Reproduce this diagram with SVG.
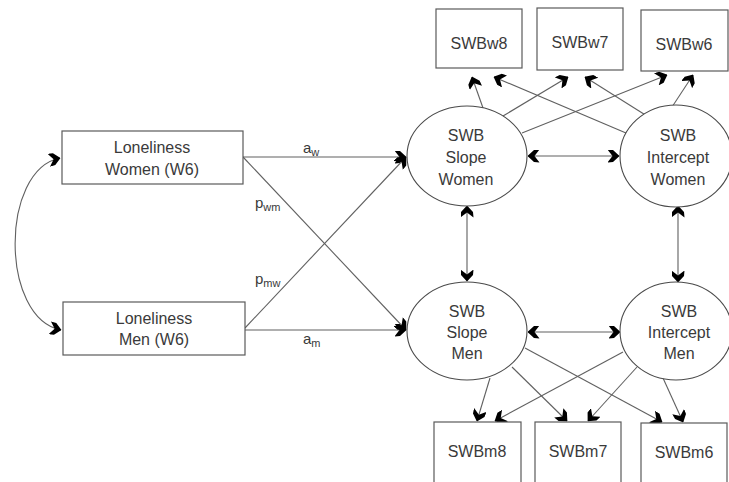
<svg xmlns="http://www.w3.org/2000/svg" width="729" height="482" viewBox="0 0 729 482">
<style>
.box{fill:#fff;stroke:#5a5a5a;stroke-width:1.2}
.ell{fill:#fff;stroke:#4a4a4a;stroke-width:1.1}
.t{font-family:"Liberation Sans",Arial,sans-serif;font-size:16px;fill:#3a3a3a;text-anchor:middle;dominant-baseline:central}
.lb{font-family:"Liberation Sans",Arial,sans-serif;font-size:15px;fill:#3a3a3a}
.sub{font-size:11px}
.c{fill:none;stroke:#606060;stroke-width:1.1}
.ar{marker-end:url(#ah)}
.bi{marker-start:url(#ahs);marker-end:url(#ah)}
</style>
<defs>
<marker id="ah" viewBox="0 0 12 13" refX="11.5" refY="6.5" markerWidth="12" markerHeight="13" markerUnits="userSpaceOnUse" orient="auto">
<path d="M0,0 L5.5,0.5 L12,6.5 L5.5,12.5 L0,13 L5,6.5 Z" fill="#000"/>
</marker>
<marker id="ahs" viewBox="0 0 12 13" refX="11.5" refY="6.5" markerWidth="12" markerHeight="13" markerUnits="userSpaceOnUse" orient="auto-start-reverse">
<path d="M0,0 L5.5,0.5 L12,6.5 L5.5,12.5 L0,13 L5,6.5 Z" fill="#000"/>
</marker>
</defs>

<g id="connectors">
<path class="c bi" d="M60,158 C0,170 0,318 61,330"/>
<line class="c ar" x1="243" y1="157" x2="406" y2="157"/>
<line class="c ar" x1="245" y1="330" x2="406" y2="330"/>
<line class="c ar" x1="243" y1="157" x2="406" y2="330"/>
<line class="c ar" x1="245" y1="328" x2="406" y2="157"/>
<line class="c bi" x1="528" y1="156" x2="619" y2="156"/>
<line class="c bi" x1="528" y1="332" x2="620" y2="332"/>
<line class="c bi" x1="467" y1="206" x2="467" y2="281"/>
<line class="c bi" x1="678" y1="206" x2="678" y2="282"/>
<line class="c ar" x1="483" y1="108" x2="472" y2="77"/>
<line class="c ar" x1="626" y1="133" x2="494" y2="77"/>
<line class="c ar" x1="503" y1="116" x2="568" y2="77"/>
<line class="c ar" x1="647" y1="116" x2="585" y2="77"/>
<line class="c ar" x1="522" y1="133" x2="667" y2="75"/>
<line class="c ar" x1="672" y1="107" x2="693" y2="75"/>
<line class="c ar" x1="490" y1="378" x2="477" y2="421"/>
<line class="c ar" x1="623" y1="352" x2="495" y2="421"/>
<line class="c ar" x1="512" y1="367" x2="567" y2="421"/>
<line class="c ar" x1="637" y1="367" x2="588" y2="421"/>
<line class="c ar" x1="525" y1="348" x2="662" y2="422"/>
<line class="c ar" x1="663" y1="378" x2="683" y2="422"/>
</g>

<g id="labels">
<text class="lb" x="303" y="153">a<tspan class="sub" dy="3">w</tspan></text>
<text class="lb" x="255" y="208">p<tspan class="sub" dy="3">wm</tspan></text>
<text class="lb" x="255" y="284">p<tspan class="sub" dy="3">mw</tspan></text>
<text class="lb" x="303" y="344">a<tspan class="sub" dy="3">m</tspan></text>
</g>

<g id="lonW">
<rect class="box" x="62" y="131" width="181" height="53"/>
<text class="t" x="152" y="147">Loneliness</text>
<text class="t" x="152" y="169">Women (W6)</text>
</g>
<g id="lonM">
<rect class="box" x="63" y="302" width="182" height="53"/>
<text class="t" x="154" y="318">Loneliness</text>
<text class="t" x="154" y="339">Men (W6)</text>
</g>

<g id="slopeW">
<ellipse class="ell" cx="467" cy="156" rx="60" ry="50"/>
<text class="t" x="466" y="135">SWB</text>
<text class="t" x="466" y="157">Slope</text>
<text class="t" x="466" y="179">Women</text>
</g>
<g id="interW">
<ellipse class="ell" cx="676" cy="156" rx="56" ry="51"/>
<text class="t" x="678" y="135">SWB</text>
<text class="t" x="678" y="157">Intercept</text>
<text class="t" x="678" y="179">Women</text>
</g>
<g id="slopeM">
<ellipse class="ell" cx="467" cy="331" rx="60" ry="49"/>
<text class="t" x="467" y="311">SWB</text>
<text class="t" x="467" y="332">Slope</text>
<text class="t" x="467" y="353">Men</text>
</g>
<g id="interM">
<ellipse class="ell" cx="676" cy="331" rx="56" ry="49"/>
<text class="t" x="679" y="311">SWB</text>
<text class="t" x="679" y="332">Intercept</text>
<text class="t" x="679" y="353">Men</text>
</g>

<g id="w8"><rect class="box" x="436" y="9" width="86" height="59"/><text class="t" x="479" y="43">SWBw8</text></g>
<g id="w7"><rect class="box" x="537" y="8" width="86" height="62"/><text class="t" x="580" y="42">SWBw7</text></g>
<g id="w6"><rect class="box" x="641" y="10" width="87" height="61"/><text class="t" x="684" y="44">SWBw6</text></g>
<g id="m8"><rect class="box" x="434" y="422" width="87" height="70"/><text class="t" x="477" y="451">SWBm8</text></g>
<g id="m7"><rect class="box" x="535" y="422" width="86" height="70"/><text class="t" x="578" y="451">SWBm7</text></g>
<g id="m6"><rect class="box" x="641" y="423" width="86" height="70"/><text class="t" x="684" y="452">SWBm6</text></g>
</svg>
